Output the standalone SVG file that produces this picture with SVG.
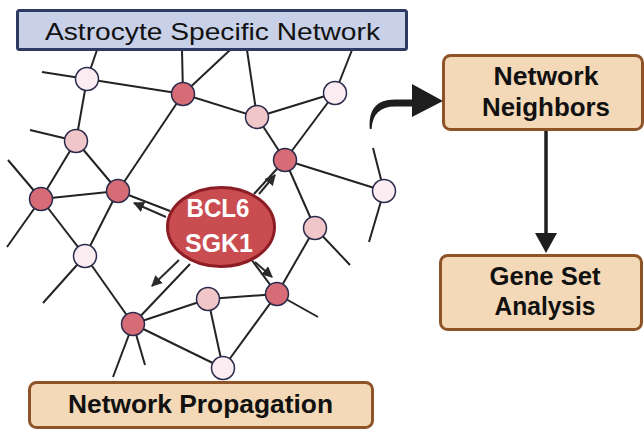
<svg xmlns="http://www.w3.org/2000/svg" width="644" height="432" viewBox="0 0 644 432">
<style>
.e{stroke:#232323;stroke-width:2;fill:none}
.n1{fill:#d66d76;stroke:#2a2a4a;stroke-width:1.5}
.n2{fill:#f0c6c9;stroke:#2a2a4a;stroke-width:1.5}
.n3{fill:#fbecf1;stroke:#2a2a4a;stroke-width:1.5}
.box{fill:#f3d9b7;stroke:#8e5427;stroke-width:3}
.bt{font-family:"Liberation Sans",Arial,sans-serif;font-weight:bold;fill:#111;text-anchor:middle}
.sa{stroke:#2a2a2a;stroke-width:2;fill:none;marker-end:url(#ah)}
</style>
<defs>
<marker id="ah" viewBox="0 0 10 10" refX="9" refY="5" markerWidth="5.5" markerHeight="5.5" orient="auto" markerUnits="strokeWidth">
<path d="M0,0 L10,5 L0,10 Z" fill="#2a2a2a"/>
</marker>
</defs>
<rect width="644" height="432" fill="#ffffff"/>
<g id="connectors">
<line class="e" x1="97" y1="50" x2="87" y2="79"/>
<line class="e" x1="182" y1="50" x2="183" y2="94"/>
<line class="e" x1="230" y1="50" x2="183" y2="94"/>
<line class="e" x1="247" y1="50" x2="257" y2="117"/>
<line class="e" x1="352" y1="50" x2="335" y2="93"/>
<line class="e" x1="42" y1="72" x2="87" y2="79"/>
<line class="e" x1="87" y1="79" x2="183" y2="94"/>
<line class="e" x1="87" y1="79" x2="76" y2="141"/>
<line class="e" x1="183" y1="94" x2="257" y2="117"/>
<line class="e" x1="257" y1="117" x2="335" y2="93"/>
<line class="e" x1="183" y1="94" x2="118" y2="191"/>
<line class="e" x1="257" y1="117" x2="285" y2="160"/>
<line class="e" x1="335" y1="93" x2="285" y2="160"/>
<line class="e" x1="30" y1="130" x2="76" y2="141"/>
<line class="e" x1="76" y1="141" x2="41" y2="199"/>
<line class="e" x1="76" y1="141" x2="118" y2="191"/>
<line class="e" x1="8" y1="160" x2="41" y2="199"/>
<line class="e" x1="41" y1="199" x2="118" y2="191"/>
<line class="e" x1="285" y1="160" x2="384" y2="191"/>
<line class="e" x1="285" y1="160" x2="315" y2="228"/>
<line class="e" x1="118" y1="191" x2="170" y2="211"/>
<line class="e" x1="285" y1="160" x2="254" y2="194"/>
<line class="e" x1="41" y1="199" x2="7" y2="247"/>
<line class="e" x1="41" y1="199" x2="85" y2="256"/>
<line class="e" x1="118" y1="191" x2="85" y2="256"/>
<line class="e" x1="85" y1="256" x2="43" y2="303"/>
<line class="e" x1="85" y1="256" x2="133" y2="324"/>
<line class="e" x1="133" y1="324" x2="190" y2="264"/>
<line class="e" x1="133" y1="324" x2="208" y2="299"/>
<line class="e" x1="133" y1="324" x2="223" y2="368"/>
<line class="e" x1="133" y1="324" x2="113" y2="377"/>
<line class="e" x1="133" y1="324" x2="145" y2="365"/>
<line class="e" x1="208" y1="299" x2="277" y2="294"/>
<line class="e" x1="208" y1="299" x2="223" y2="368"/>
<line class="e" x1="277" y1="294" x2="223" y2="368"/>
<line class="e" x1="277" y1="294" x2="251" y2="259"/>
<line class="e" x1="277" y1="294" x2="318" y2="317"/>
<line class="e" x1="277" y1="294" x2="315" y2="228"/>
<line class="e" x1="315" y1="228" x2="350" y2="265"/>
<line class="e" x1="384" y1="191" x2="369" y2="242"/>
<line class="e" x1="384" y1="191" x2="373" y2="148"/>
<line class="sa" x1="166" y1="217" x2="134" y2="203"/>
<line class="sa" x1="259" y1="194" x2="275" y2="175"/>
<line class="sa" x1="179" y1="260" x2="152" y2="286"/>
<line class="sa" x1="255" y1="262" x2="272" y2="277"/>
<path d="M369.8,129 C368.5,111 375,99.5 395,99.5 L414,99.5 L414,106.5 L395,106.5 C380,106.5 372.5,114 371.6,129 Z" fill="#1e1e1e"/>
<polygon points="412,84 443,101 412,117" fill="#1e1e1e"/>
<line x1="546" y1="131" x2="546" y2="236" stroke="#1e1e1e" stroke-width="3.5"/>
<polygon points="535,233 557,233 546,253" fill="#1e1e1e"/>
</g>
<g id="nodes">
<circle class="n3" cx="87" cy="79" r="11.5"/>
<circle class="n1" cx="183" cy="94" r="11.5"/>
<circle class="n2" cx="257" cy="117" r="11.5"/>
<circle class="n3" cx="335" cy="93" r="11.5"/>
<circle class="n2" cx="76" cy="141" r="11.5"/>
<circle class="n1" cx="285" cy="160" r="11.5"/>
<circle class="n1" cx="118" cy="191" r="11.5"/>
<circle class="n1" cx="41" cy="199" r="11.5"/>
<circle class="n3" cx="384" cy="191" r="11.5"/>
<circle class="n2" cx="315" cy="228" r="11.5"/>
<circle class="n3" cx="85" cy="256" r="11.5"/>
<circle class="n2" cx="208" cy="299" r="11.5"/>
<circle class="n1" cx="277" cy="294" r="11.5"/>
<circle class="n1" cx="133" cy="324" r="11.5"/>
<circle class="n3" cx="223" cy="368" r="11.5"/>
</g>
<g id="title">
<rect x="17.5" y="10.5" width="389" height="39" rx="2" fill="#c9d1e8" stroke="#2d3b63" stroke-width="3"/>
<text x="212.5" y="40" font-family="'Liberation Sans',Arial,sans-serif" font-size="24" fill="#111" text-anchor="middle" textLength="335" lengthAdjust="spacingAndGlyphs">Astrocyte Specific Network</text>
</g>
<g id="genes">
<ellipse cx="221" cy="227" rx="53.5" ry="39.5" fill="#c94c51" stroke="#8c1d24" stroke-width="3"/>
<text class="bt" x="218" y="217" font-size="26" style="fill:#fff" textLength="63" lengthAdjust="spacingAndGlyphs">BCL6</text>
<text class="bt" x="219" y="252" font-size="26" style="fill:#fff" textLength="68" lengthAdjust="spacingAndGlyphs">SGK1</text>
</g>
<g id="propagation">
<rect class="box" x="29.5" y="382.5" width="343" height="45" rx="7"/>
<text class="bt" x="200.5" y="413" font-size="25.5" textLength="265" lengthAdjust="spacingAndGlyphs">Network Propagation</text>
</g>
<g id="neighbors">
<rect class="box" x="443.5" y="55.5" width="199" height="74" rx="7"/>
<text class="bt" x="546" y="85" font-size="25" textLength="105" lengthAdjust="spacingAndGlyphs">Network</text>
<text class="bt" x="546" y="116" font-size="25" textLength="128" lengthAdjust="spacingAndGlyphs">Neighbors</text>
</g>
<g id="geneset">
<rect class="box" x="440.5" y="255.5" width="201" height="74" rx="7"/>
<text class="bt" x="545" y="285" font-size="25" textLength="111" lengthAdjust="spacingAndGlyphs">Gene Set</text>
<text class="bt" x="545" y="315" font-size="25" textLength="101" lengthAdjust="spacingAndGlyphs">Analysis</text>
</g>
</svg>
